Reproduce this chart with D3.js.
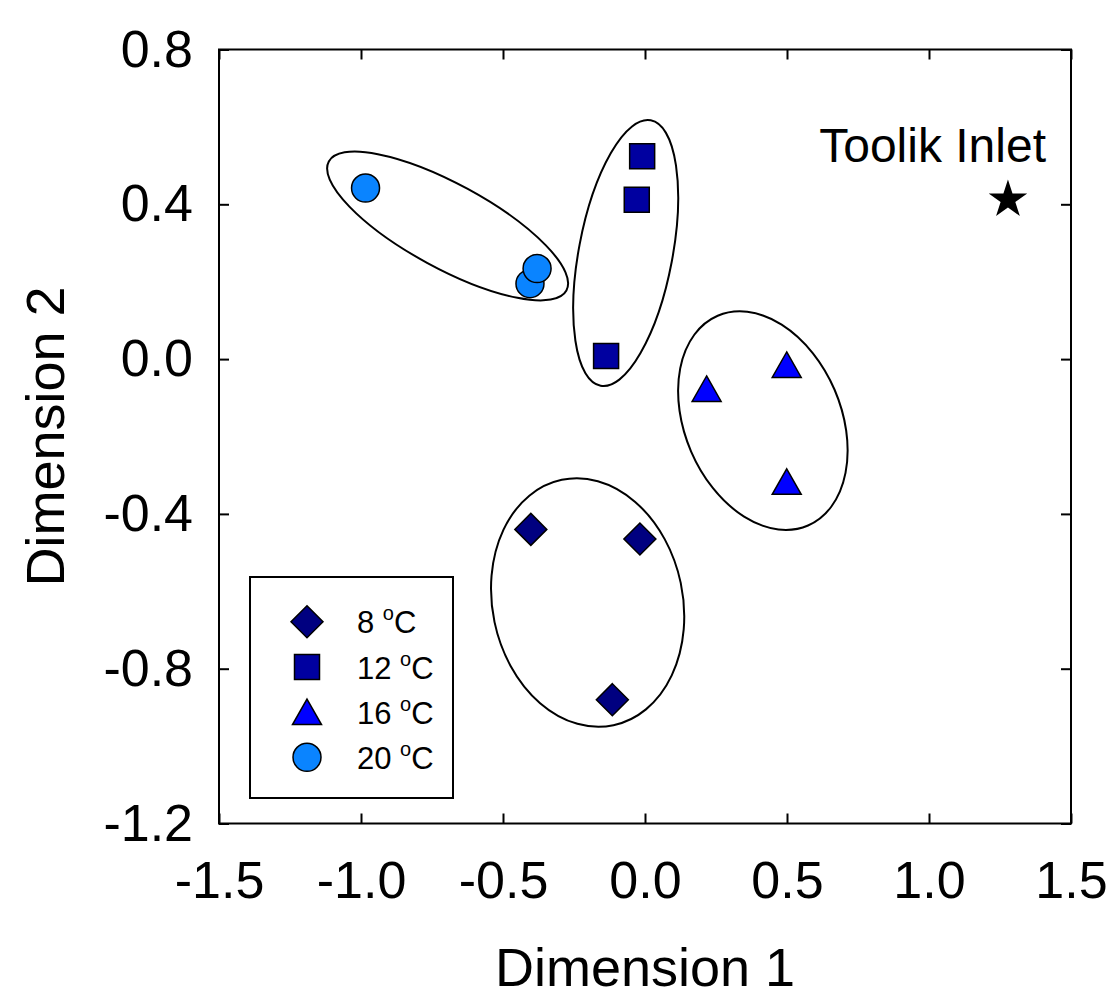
<!DOCTYPE html>
<html>
<head>
<meta charset="utf-8">
<script src="https://cdn.jsdelivr.net/npm/d3@7"></script>
<style>
  body { margin: 0; background: #fff; }
  text { font-family: "Liberation Sans", Arial, sans-serif; fill: #000; }
</style>
</head>
<body>
<div id="graph"></div>
<script>
// Axis ticks
const xTicks = [-1.5, -1.0, -0.5, 0.0, 0.5, 1.0, 1.5];
const yTicks = [0.8, 0.4, 0.0, -0.4, -0.8, -1.2];

// Groups (temperature) and their points in NMDS space
const groupNames = ["8", "12", "16", "20"];
const groupShapes = ["diamond", "square", "triangle", "circle"];
const groupColors = ["#000080", "#0000a0", "#0000ff", "#0a84ff"];

const x8 = [-0.402, -0.018, -0.115];
const y8 = [-0.440, -0.465, -0.880];
const x12 = [-0.010, -0.029, -0.137];
const y12 = [0.524, 0.412, 0.008];
const x16 = [0.217, 0.499, 0.499];
const y16 = [-0.077, -0.015, -0.317];
const x20 = [-0.984, -0.405, -0.380];
const y20 = [0.442, 0.195, 0.234];

// Reference site
const refLabel = "Toolik Inlet";
const refX = 1.278;
const refY = 0.412;

// Group ellipses (centre, semi-axes in data units, tilt in degrees)
const ellCx = [-0.202, -0.068, 0.415, -0.695];
const ellCy = [-0.629, 0.274, -0.159, 0.344];
const ellRx = [0.335, 0.165, 0.275, 0.476];
const ellRy = [0.324, 0.349, 0.295, 0.109];
const ellAngle = [-11.9, 10.7, -23.3, 28.5];

// Canvas
const width = 1109;
const height = 1003;
const margin = { top: 49.5, right: 38, bottom: 179.5, left: 219 };

const svg = d3.select('#graph').append('svg')
    .attr('width', width)
    .attr('height', height);

const xScale = d3.scaleLinear()
    .domain([-1.5, 1.5])
    .range([margin.left, width - margin.right]);

const yScale = d3.scaleLinear()
    .domain([-1.2, 0.8])
    .range([height - margin.bottom, margin.top]);

const fmt = v => v.toFixed(1);

// Axes with inward ticks
const xAxis = svg.append('g')
    .attr('transform', `translate(0, ${yScale(-1.2)})`)
    .call(d3.axisBottom(xScale).tickValues(xTicks).tickFormat(fmt).tickSize(-10).tickPadding(38));

const xAxisTop = svg.append('g')
    .attr('transform', `translate(0, ${yScale(0.8)})`)
    .call(d3.axisTop(xScale).tickValues(xTicks).tickFormat('').tickSize(-10));

const yAxis = svg.append('g')
    .attr('transform', `translate(${xScale(-1.5)}, 0)`)
    .call(d3.axisLeft(yScale).tickValues(yTicks).tickFormat(fmt).tickSize(-10).tickPadding(26));

const yAxisRight = svg.append('g')
    .attr('transform', `translate(${xScale(1.5)}, 0)`)
    .call(d3.axisRight(yScale).tickValues(yTicks).tickFormat('').tickSize(-10));

[xAxis, xAxisTop, yAxis, yAxisRight].forEach(g => {
    g.select('.domain').remove();
    g.selectAll('line').attr('stroke', '#000').attr('stroke-width', 2);
    g.selectAll('text')
        .style('font-family', '"Liberation Sans", Arial, sans-serif')
        .style('font-size', '52px')
        .attr('fill', '#000');
});

// Frame
svg.append('rect')
    .attr('x', xScale(-1.5))
    .attr('y', yScale(0.8))
    .attr('width', xScale(1.5) - xScale(-1.5))
    .attr('height', yScale(-1.2) - yScale(0.8))
    .attr('fill', 'none')
    .attr('stroke', '#000')
    .attr('stroke-width', 2);

// Axis titles
svg.append('text')
    .attr('x', (xScale(-1.5) + xScale(1.5)) / 2)
    .attr('y', 986)
    .attr('text-anchor', 'middle')
    .style('font-size', '54px')
    .text('Dimension 1');

svg.append('text')
    .attr('transform', `translate(64, ${(yScale(0.8) + yScale(-1.2)) / 2}) rotate(-90)`)
    .attr('text-anchor', 'middle')
    .style('font-size', '54px')
    .text('Dimension 2');

// Ellipses
svg.append('g').selectAll('ellipse')
    .data(ellCx.map((cx, i) => ({ cx, cy: ellCy[i], rx: ellRx[i], ry: ellRy[i], a: ellAngle[i] })))
    .enter().append('ellipse')
    .attr('transform', d => `translate(${xScale(d.cx)}, ${yScale(d.cy)}) rotate(${d.a})`)
    .attr('rx', d => xScale(d.rx) - xScale(0))
    .attr('ry', d => yScale(0) - yScale(d.ry))
    .attr('fill', 'none')
    .attr('stroke', '#000')
    .attr('stroke-width', 2);

// Marker shapes
function shapePath(shape) {
    switch (shape) {
        case 'diamond': return 'M0,-16L16,0L0,16L-16,0Z';
        case 'square': return 'M-12.5,-12.5H12.5V12.5H-12.5Z';
        case 'triangle': return 'M0,-13L14.5,12.5L-14.5,12.5Z';
        default: return 'M14,0A14,14 0 1,1 -14,0A14,14 0 1,1 14,0Z';
    }
}

const groupX = [x8, x12, x16, x20];
const groupY = [y8, y12, y16, y20];

const points = [];
groupX.forEach((xs, g) => {
    xs.forEach((v, i) => points.push({ x: v, y: groupY[g][i], g }));
});

svg.append('g').selectAll('path')
    .data(points)
    .enter().append('path')
    .attr('d', d => shapePath(groupShapes[d.g]))
    .attr('transform', d => `translate(${xScale(d.x)}, ${yScale(d.y)})`)
    .attr('fill', d => groupColors[d.g])
    .attr('stroke', '#000')
    .attr('stroke-width', 1.5);

// Reference site star and label
svg.append('path')
    .attr('d', d3.symbol(d3.symbolStar).size(460)())
    .attr('transform', `translate(${xScale(refX)}, ${yScale(refY)})`)
    .attr('fill', '#000');

svg.append('text')
    .attr('x', 1046)
    .attr('y', 162)
    .attr('text-anchor', 'end')
    .style('font-size', '48px')
    .text(refLabel);

// Legend
const legend = svg.append('g');
legend.append('rect')
    .attr('x', 250).attr('y', 577)
    .attr('width', 203).attr('height', 221)
    .attr('fill', '#fff')
    .attr('stroke', '#000')
    .attr('stroke-width', 2);

groupNames.forEach((name, i) => {
    const cy = 621.7 + i * 45.2;
    legend.append('path')
        .attr('d', shapePath(groupShapes[i]))
        .attr('transform', `translate(307, ${cy})`)
        .attr('fill', groupColors[i])
        .attr('stroke', '#000')
        .attr('stroke-width', 1.5);
    const t = legend.append('text')
        .attr('x', 357)
        .attr('y', cy + 11.6)
        .style('font-size', '31px');
    t.append('tspan').text(name + ' ');
    t.append('tspan').attr('dy', -13).style('font-size', '20px').text('o');
    t.append('tspan').attr('dy', 13).text('C');
});
</script>
</body>
</html>
